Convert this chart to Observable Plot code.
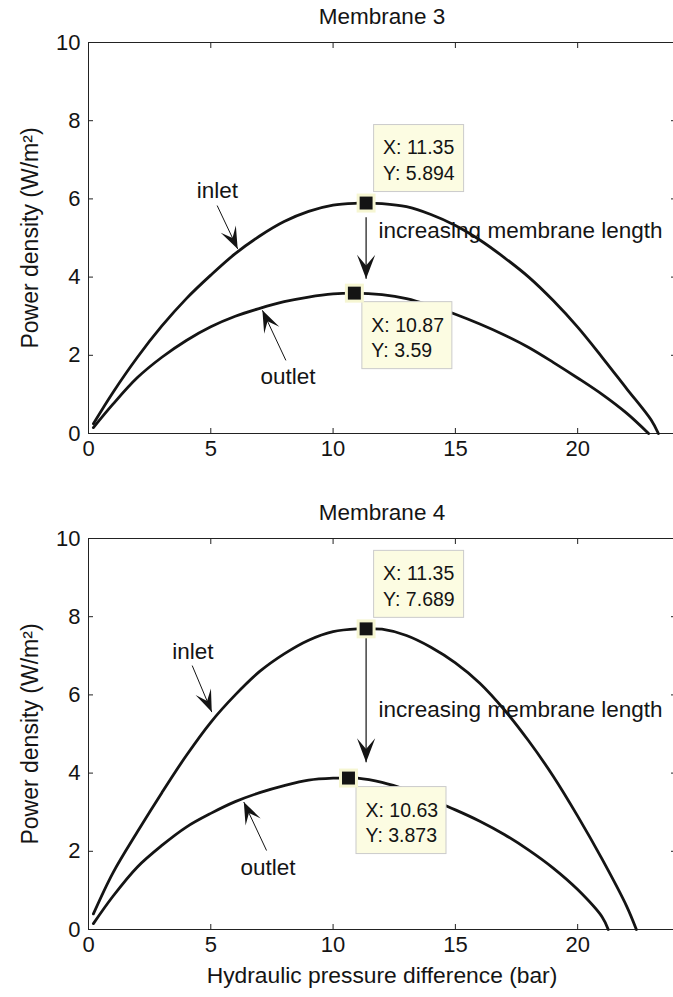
<!DOCTYPE html>
<html>
<head>
<meta charset="utf-8">
<script src="https://cdn.jsdelivr.net/npm/d3@7"></script>
<script src="https://cdn.jsdelivr.net/npm/@observablehq/plot@0.6"></script>
<style>
  html, body { margin: 0; padding: 0; background: #fff; overflow: hidden; }
  #chart { width: 673px; height: 997px; overflow: hidden; }
  #chart svg { display: block; max-width: none !important; }
</style>
</head>
<body>
<div id="chart"></div>
<script>
// Power density (W/m^2) vs hydraulic pressure difference (bar)

// Membrane 3
const m3InletP  = [0.2, 1, 2, 3, 4, 5, 6, 7, 8, 9, 10, 11, 11.35, 12, 13, 14, 15, 16, 17, 18, 19, 20, 21, 22, 23, 23.3];
const m3InletW  = [0.25, 1.05, 1.95, 2.75, 3.45, 4.05, 4.6, 5.05, 5.42, 5.68, 5.84, 5.89, 5.894, 5.88, 5.8, 5.6, 5.32, 4.95, 4.5, 4.0, 3.4, 2.72, 1.95, 1.15, 0.35, 0];
const m3OutletP = [0.2, 1, 2, 3, 4, 5, 6, 7, 8, 9, 10, 10.87, 12, 13, 14, 15, 16, 17, 18, 19, 20, 21, 22, 22.9];
const m3OutletW = [0.15, 0.75, 1.43, 1.95, 2.38, 2.73, 3.0, 3.2, 3.37, 3.49, 3.57, 3.59, 3.55, 3.45, 3.27, 3.05, 2.8, 2.52, 2.2, 1.82, 1.42, 1.0, 0.52, 0];

// Membrane 4
const m4InletP  = [0.2, 1, 2, 3, 4, 5, 6, 7, 8, 9, 10, 11, 11.35, 12, 13, 14, 15, 16, 17, 18, 19, 20, 21, 22, 22.4];
const m4InletW  = [0.4, 1.45, 2.5, 3.5, 4.45, 5.3, 6.0, 6.6, 7.05, 7.4, 7.62, 7.69, 7.689, 7.68, 7.52, 7.22, 6.82, 6.3, 5.62, 4.82, 3.92, 2.9, 1.8, 0.6, 0];
const m4OutletP = [0.2, 1, 2, 3, 4, 5, 6, 7, 8, 9, 10, 10.63, 11, 12, 13, 14, 15, 16, 17, 18, 19, 20, 21, 21.25];
const m4OutletW = [0.15, 0.85, 1.6, 2.15, 2.62, 2.97, 3.27, 3.5, 3.68, 3.82, 3.87, 3.873, 3.87, 3.76, 3.57, 3.32, 3.06, 2.77, 2.43, 2.03, 1.57, 1.02, 0.32, 0];

// Data tips (maximum power points)
const m3Tips = [
  {x: 11.35, y: 5.894, place: "above"},
  {x: 10.87, y: 3.59, place: "below"}
];
const m4Tips = [
  {x: 11.35, y: 7.689, place: "above"},
  {x: 10.63, y: 3.873, place: "below"}
];

// Curve labels with pointer arrows: label position, arrow start, arrow tip
const m3Notes = [
  {label: "inlet",  lx: 5.27, ly: 6.2,  ax: 5.26, ay: 5.83, tx: 6.1,  ty: 4.72},
  {label: "outlet", lx: 8.16, ly: 1.44, ax: 8.07, ay: 1.87, tx: 7.11, ty: 3.15}
];
const m4Notes = [
  {label: "inlet",  lx: 4.27, ly: 7.09, ax: 4.24, ay: 6.75, tx: 5.04, ty: 5.56},
  {label: "outlet", lx: 7.34, ly: 1.59, ax: 7.28, ay: 2.02, tx: 6.35, ty: 3.26}
];

// Trend arrow between the two maxima
const m3Trend = {x: 11.35, y1: 5.53, y2: 3.96, tx: 11.86, ty: 5.19};
const m4Trend = {x: 11.35, y1: 7.52, y2: 4.28, tx: 11.86, ty: 5.63};
const trendLabel = "increasing membrane length";

const xDomain = [0, 24];
const yDomain = [0, 10];
const xTicks = [0, 5, 10, 15, 20];
const yTicks = [0, 2, 4, 6, 8, 10];

const FONT = "'Liberation Sans', Arial, Helvetica, sans-serif";
const INK = "#141414";

const toPoints = (xs, ys) => xs.map((x, i) => ({x, y: ys[i]}));

// Filled barbed arrowhead, tip at the origin, pointing up
const stealth = {
  draw(context, size) {
    const r = Math.sqrt(size / Math.PI);
    const w = 0.38 * r;
    context.moveTo(0, 0);
    context.lineTo(w, r);
    context.lineTo(0, 0.55 * r);
    context.lineTo(-w, r);
    context.closePath();
  }
};

function panel({title, inlet, outlet, tips, notes, trend, height, marginTop, marginBottom, xLabel}) {
  const W = 680, ML = 88, MR = 5;
  const sx = d3.scaleLinear(xDomain, [ML, W - MR]);
  const sy = d3.scaleLinear(yDomain, [height - marginBottom, marginTop]);
  const heading = (x1, y1, x2, y2) =>
    Math.atan2(sx(x2) - sx(x1), -(sy(y2) - sy(y1))) * 180 / Math.PI;

  const noteArrows = notes.map(n => ({x1: n.ax, y1: n.ay, x2: n.tx, y2: n.ty}));
  const trendArrow = [{x1: trend.x, y1: trend.y1, x2: trend.x, y2: trend.y2}];

  const tipMarks = tips.flatMap(t => {
    const above = t.place === "above";
    const top = above ? -78 : 9;
    return [
      Plot.rect([t], {
        x1: "x", x2: "x", y1: "y", y2: "y",
        insetLeft: 0, insetRight: -90, insetTop: 0, insetBottom: -67,
        dx: 8, dy: top,
        fill: "#fcfce2", stroke: "#cbcbcb", strokeWidth: 1
      }),
      Plot.text([t], {
        x: "x", y: "y",
        text: d => `X: ${d.x}\nY: ${d.y}`,
        textAnchor: "start", lineAnchor: "middle", lineHeight: 1.3,
        fontSize: 19.5, fill: INK,
        dx: 17, dy: top + 34
      })
    ];
  });

  const marks = [
    Plot.frame({stroke: "#222", strokeWidth: 1}),
    Plot.axisX(xTicks, {anchor: "bottom", tickSize: -5, tickPadding: 12, label: null, fontSize: 22, stroke: "#222"}),
    Plot.axisX(xTicks, {anchor: "top", tickSize: -5, tickFormat: () => "", label: null, stroke: "#222"}),
    Plot.axisY(yTicks, {anchor: "left", tickSize: -5, tickPadding: 13, label: null, fontSize: 22, stroke: "#222"}),
    Plot.axisY(yTicks, {anchor: "right", tickSize: -5, tickFormat: () => "", label: null, stroke: "#222"}),

    Plot.line(inlet, {x: "x", y: "y", stroke: INK, strokeWidth: 2.8, curve: "catmull-rom"}),
    Plot.line(outlet, {x: "x", y: "y", stroke: INK, strokeWidth: 2.8, curve: "catmull-rom"}),

    // pointer arrows to the curves
    Plot.link(noteArrows, {x1: "x1", y1: "y1", x2: "x2", y2: "y2", stroke: INK, strokeWidth: 1}),
    Plot.dot(noteArrows, {x: "x2", y: "y2", symbol: stealth, r: 22, fill: INK, stroke: null,
      rotate: d => heading(d.x1, d.y1, d.x2, d.y2)}),
    Plot.text(notes, {x: "lx", y: "ly", text: "label", fontSize: 22.5, fill: INK}),

    // trend arrow
    Plot.link(trendArrow, {x1: "x1", y1: "y1", x2: "x2", y2: "y2", stroke: INK, strokeWidth: 1.2}),
    Plot.dot(trendArrow, {x: "x2", y: "y2", symbol: stealth, r: 24, fill: INK, stroke: null,
      rotate: d => heading(d.x1, d.y1, d.x2, d.y2)}),
    Plot.text([trendLabel], {x: () => trend.tx, y: () => trend.ty, text: d => d,
      textAnchor: "start", fontSize: 22.5, fill: INK}),

    ...tipMarks,
    Plot.dot(tips, {x: "x", y: "y", symbol: "square", r: 10.7, fill: "#f6f6d2", stroke: null}),
    Plot.dot(tips, {x: "x", y: "y", symbol: "square", r: 7.3, fill: INK, stroke: null}),

    Plot.text([title], {frameAnchor: "top", lineAnchor: "middle", textAnchor: "middle", dy: -26,
      text: d => d, fontSize: 22.5, fill: INK}),
    Plot.text(["Power density (W/m²)"], {frameAnchor: "left", textAnchor: "middle", lineAnchor: "middle",
      rotate: -90, dx: -58, text: d => d, fontSize: 23, fill: INK})
  ];
  if (xLabel) {
    marks.push(Plot.text([xLabel], {frameAnchor: "bottom", lineAnchor: "middle", textAnchor: "middle",
      dy: 46, text: d => d, fontSize: 22.8, fill: INK}));
  }

  return Plot.plot({
    width: W, height,
    marginLeft: ML, marginRight: MR, marginTop, marginBottom,
    style: {fontFamily: FONT, fontSize: "22px", color: INK, background: "white", overflow: "visible", maxWidth: "none"},
    x: {domain: xDomain},
    y: {domain: yDomain},
    marks
  });
}

const chart = document.getElementById("chart");
chart.append(panel({
  title: "Membrane 3",
  inlet: toPoints(m3InletP, m3InletW),
  outlet: toPoints(m3OutletP, m3OutletW),
  tips: m3Tips, notes: m3Notes, trend: m3Trend,
  height: 480, marginTop: 42, marginBottom: 47
}));
chart.append(panel({
  title: "Membrane 4",
  inlet: toPoints(m4InletP, m4InletW),
  outlet: toPoints(m4OutletP, m4OutletW),
  tips: m4Tips, notes: m4Notes, trend: m4Trend,
  height: 517, marginTop: 58, marginBottom: 68,
  xLabel: "Hydraulic pressure difference (bar)"
}));
</script>
</body>
</html>
